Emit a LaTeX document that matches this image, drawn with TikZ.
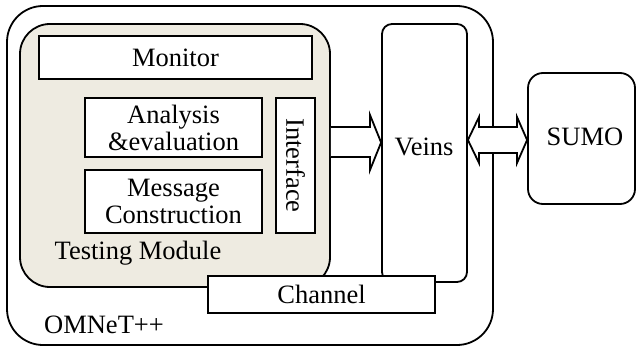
\documentclass[tikz,border=0pt]{standalone}
\usepackage{fontspec}
\setmainfont{Liberation Serif}
\begin{document}
\begin{tikzpicture}[x=1pt,y=-1pt,line width=1.8pt,
  box/.style={draw,fill=white,inner sep=0pt,align=center,font=\fontsize{26.5}{30}\selectfont},
  lbl/.style={inner sep=0pt,font=\fontsize{26.5}{30}\selectfont},
  bigarrow/.style={draw,fill=white,line join=miter}]
\useasboundingbox (0,0) rectangle (636,347);
\node[box,minimum width=486pt,minimum height=339pt,rounded corners=36pt] (omnet) at (250,175.5) {};
\node[lbl] (omnetl) at (104,325) {OMNeT++};
\node[box,minimum width=85pt,minimum height=258pt,rounded corners=10pt] (veins) at (424.5,153) {};
\node[lbl] (veinsl) at (424,147) {Veins};
\node[box,fill={rgb,255:red,238;green,235;blue,225},minimum width=310pt,minimum height=263pt,rounded corners=30pt] (tm) at (175,155.5) {};
\node[lbl] (tml) at (138,253) {Testing Module};
\node[box,minimum width=273pt,minimum height=43pt] (monitor) at (175.5,57.5) {Monitor};
\node[box,minimum width=177pt,minimum height=59pt] (analysis) at (173.5,127.5) {Analysis\\[-3pt]\&evaluation};
\node[box,minimum width=177pt,minimum height=63pt] (message) at (173.5,201.5) {Message\\[-3pt]Construction};
\node[box,minimum width=39pt,minimum height=135pt] (interface) at (295.5,165.5) {};
\node[lbl,rotate=-90] (interfacel) at (295.5,165.5) {Interface};
\node[box,minimum width=227pt,minimum height=37pt] (channel) at (321.5,294.5) {Channel};
\node[box,minimum width=107pt,minimum height=131pt,rounded corners=15pt] (sumo) at (581.5,138.5) {};
\node[lbl] (sumol) at (585,137) {SUMO};
% single arrow Testing Module -> Veins
\coordinate (ay) at (0,142.5);
\draw[bigarrow] (tm.east |- 0,127) -- (370,127) -- (370,115) -- (veins.west |- ay) -- (370,170) -- (370,157) -- (tm.east |- 0,157);
% double arrow Veins <-> SUMO
\coordinate (by) at (0,140);
\draw[bigarrow] (veins.east |- by) -- (479,117) -- (479,127) -- (517,127) -- (517,117) -- (sumo.west |- by) -- (517,163) -- (517,153) -- (479,153) -- (479,163) -- cycle;
\end{tikzpicture}
\end{document}
